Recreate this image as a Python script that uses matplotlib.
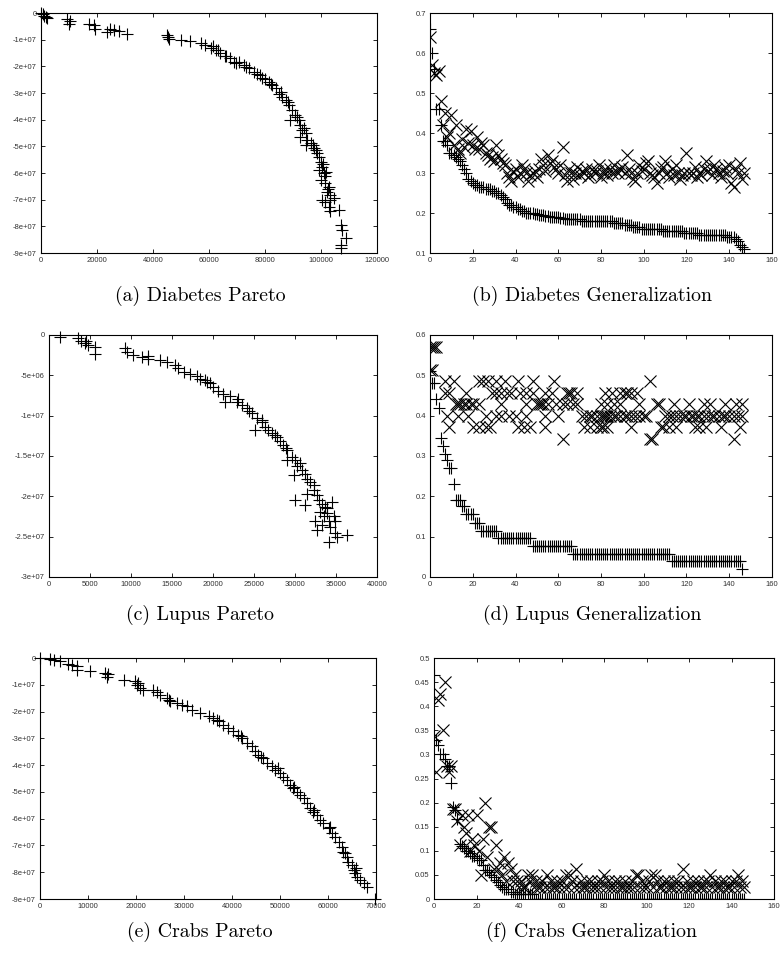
import numpy as np
import matplotlib
matplotlib.use('Agg')
import matplotlib.pyplot as plt

# ---- (a) Diabetes Pareto front (x objective, y objective)
diab_par_x = [0, 700, 1200, 1800, 2000, 9300, 10500, 9900, 17000, 18800, 19400, 23600, 24800,
              26000, 27700, 30700, 45000, 45600, 45300, 49800, 53300, 57000, 58700, 60500, 62300,
              64000, 65500, 67600, 68800, 70500, 72400, 74200, 76000, 78300, 80100, 81300, 82500,
              83700, 84900, 86000, 87300, 88500, 89000, 89600, 90800, 92000, 92600, 93200, 92600,
              94400, 95000, 94400, 96200, 97400, 98600, 99200, 99800, 100400, 99200, 101000,
              101500, 99800, 101500, 102700, 102100, 103300, 100400, 101500, 103300, 104500,
              102700, 103300, 106300, 106900, 107500, 108700, 106900, 107100, 61500, 63000,
              66000, 69500, 73000, 77000, 79000, 82000, 85500, 88000, 91500, 93800, 97000,
              98000, 100800, 101800, 102300]
diab_par_y = [-0.0e7, -0.05e7, -0.1e7, -0.15e7, -0.2e7, -0.21e7, -0.3e7, -0.4e7, -0.4e7, -0.46e7,
              -0.59e7, -0.71e7, -0.59e7, -0.65e7, -0.67e7, -0.77e7, -0.84e7, -0.96e7, -0.9e7,
              -1.0e7, -1.05e7, -1.12e7, -1.21e7, -1.3e7, -1.4e7, -1.5e7, -1.6e7, -1.7e7, -1.83e7,
              -1.85e7, -1.96e7, -2.08e7, -2.2e7, -2.33e7, -2.46e7, -2.58e7, -2.7e7, -2.83e7,
              -3.02e7, -3.14e7, -3.27e7, -3.45e7, -4.0e7, -3.64e7, -3.83e7, -4.0e7, -4.2e7,
              -4.39e7, -4.64e7, -4.5e7, -4.76e7, -4.95e7, -4.89e7, -5.07e7, -5.26e7, -5.39e7,
              -5.57e7, -5.76e7, -5.89e7, -6.0e7, -6.13e7, -6.26e7, -6.38e7, -6.51e7, -6.7e7,
              -6.82e7, -7.0e7, -7.07e7, -7.0e7, -6.95e7, -7.26e7, -7.44e7, -7.38e7, -7.94e7,
              -8.13e7, -8.44e7, -8.69e7, -8.82e7, -1.25e7, -1.38e7, -1.6e7, -1.88e7, -2.02e7,
              -2.28e7, -2.42e7, -2.65e7, -2.95e7, -3.35e7, -3.9e7, -4.3e7, -4.95e7, -5.15e7,
              -5.65e7, -5.95e7, -6.6e7]

# ---- (b) Diabetes generalization: training (+) and test (x) error per front member
diab_train = [0.66, 0.60, 0.56, 0.46, 0.46, 0.42, 0.38, 0.38, 0.37, 0.35,
              0.35, 0.345, 0.34, 0.335, 0.33, 0.32, 0.31, 0.30, 0.285, 0.28,
              0.275, 0.27, 0.27, 0.265, 0.265, 0.265, 0.26, 0.26, 0.26, 0.255,
              0.255, 0.25, 0.25, 0.245, 0.24, 0.235, 0.225, 0.22, 0.22, 0.215,
              0.215, 0.21, 0.21, 0.205, 0.205, 0.20, 0.20, 0.20, 0.20, 0.198,
              0.198, 0.196, 0.195, 0.195, 0.193, 0.192, 0.19, 0.19, 0.19, 0.19,
              0.19, 0.188, 0.188, 0.185, 0.185, 0.185, 0.185, 0.185, 0.185, 0.185,
              0.185, 0.18, 0.18, 0.18, 0.18, 0.18, 0.18, 0.18, 0.18, 0.18,
              0.18, 0.18, 0.18, 0.18, 0.18, 0.18, 0.175, 0.175, 0.175, 0.175,
              0.175, 0.17, 0.17, 0.17, 0.17, 0.165, 0.165, 0.165, 0.165, 0.16,
              0.16, 0.16, 0.16, 0.16, 0.16, 0.16, 0.16, 0.16, 0.16, 0.155,
              0.155, 0.155, 0.155, 0.155, 0.155, 0.155, 0.155, 0.155, 0.155, 0.15,
              0.15, 0.15, 0.15, 0.15, 0.15, 0.15, 0.145, 0.145, 0.145, 0.145,
              0.145, 0.145, 0.145, 0.145, 0.145, 0.145, 0.145, 0.145, 0.145, 0.14,
              0.14, 0.14, 0.14, 0.135, 0.13, 0.12, 0.115, 0.11]
diab_test = [0.64, 0.57, 0.55, 0.545, 0.555, 0.48, 0.42, 0.45, 0.39, 0.40,
             0.445, 0.37, 0.42, 0.36, 0.35, 0.385, 0.365, 0.41, 0.375, 0.405,
             0.37, 0.36, 0.39, 0.36, 0.375, 0.37, 0.35, 0.345, 0.335, 0.34,
             0.33, 0.37, 0.345, 0.335, 0.325, 0.32, 0.30, 0.29, 0.28, 0.305,
             0.31, 0.29, 0.30, 0.32, 0.31, 0.30, 0.28, 0.295, 0.30, 0.305,
             0.29, 0.31, 0.335, 0.32, 0.305, 0.345, 0.325, 0.33, 0.315, 0.31,
             0.30, 0.32, 0.365, 0.295, 0.28, 0.31, 0.30, 0.285, 0.30, 0.315,
             0.295, 0.305, 0.30, 0.31, 0.29, 0.295, 0.31, 0.30, 0.305, 0.32,
             0.29, 0.30, 0.31, 0.295, 0.31, 0.30, 0.32, 0.305, 0.30, 0.31,
             0.315, 0.30, 0.345, 0.31, 0.30, 0.285, 0.28, 0.30, 0.32, 0.305,
             0.31, 0.325, 0.33, 0.30, 0.295, 0.29, 0.275, 0.30, 0.31, 0.315,
             0.33, 0.30, 0.29, 0.31, 0.295, 0.32, 0.30, 0.285, 0.295, 0.30,
             0.35, 0.30, 0.295, 0.30, 0.315, 0.29, 0.30, 0.295, 0.31, 0.33,
             0.305, 0.31, 0.295, 0.32, 0.31, 0.30, 0.29, 0.305, 0.315, 0.30,
             0.32, 0.275, 0.265, 0.31, 0.30, 0.325, 0.285, 0.30]

# ---- (c) Lupus Pareto front
lupus_par_x = [1300, 3540, 3950, 4360, 4770, 5580, 5580, 4560, 9250, 9450, 10260, 11280, 12100,
               12100, 13520, 14340, 15360, 15760, 17190, 18000, 18410, 19000, 19630, 20050, 20650,
               21260, 21470, 22080, 22890, 23500, 24110, 24730, 25330, 25120, 25950, 26350, 26760,
               27170, 27780, 28190, 28590, 29000, 29000, 29620, 30020, 30220, 29820, 30630, 30830,
               31240, 31450, 31860, 32260, 30020, 31240, 31450, 32260, 32670, 32870, 33280, 33690,
               33080, 32460, 33490, 33890, 34100, 33280, 32670, 34300, 34700, 34900, 33900, 34100,
               34900, 35110, 36330, 34500, 16500, 19300, 23000, 24400, 26000, 27500, 28900]
lupus_par_y = [-0.2e6, -0.4e6, -0.7e6, -1.0e6, -1.2e6, -1.45e6, -2.3e6, -0.8e6, -1.65e6, -2.1e6,
               -2.5e6, -2.7e6, -2.6e6, -3.0e6, -3.1e6, -3.4e6, -3.7e6, -4.1e6, -4.8e6, -5.1e6,
               -5.4e6, -5.6e6, -6.0e6, -6.4e6, -6.9e6, -7.3e6, -8.3e6, -7.6e6, -8.3e6, -8.7e6,
               -9.1e6, -9.7e6, -10.3e6, -11.8e6, -10.8e6, -11.4e6, -11.8e6, -12.2e6, -12.6e6,
               -13.2e6, -13.7e6, -14.3e6, -15.5e6, -15.1e6, -15.5e6, -16.3e6, -17.4e6, -15.9e6,
               -16.7e6, -17.2e6, -17.8e6, -18.2e6, -18.6e6, -20.5e6, -21.1e6, -19.7e6, -19.2e6,
               -19.9e6, -20.5e6, -20.9e6, -21.3e6, -21.9e6, -23.0e6, -22.5e6, -22.1e6, -23.0e6,
               -23.6e6, -24.2e6, -23.8e6, -22.5e6, -23.1e6, -21.5e6, -25.7e6, -24.6e6, -25.0e6,
               -24.8e6, -20.7e6, -4.6e6, -5.8e6, -8.0e6, -9.4e6, -10.6e6, -12.4e6, -14.0e6]

# ---- (d) Lupus generalization
lupus_train = [0.51, 0.48, 0.48, 0.44, 0.42, 0.345, 0.325, 0.305, 0.29, 0.27,
               0.27, 0.23, 0.19, 0.19, 0.19, 0.175, 0.175, 0.155, 0.155, 0.155,
               0.155, 0.135, 0.135, 0.135, 0.115, 0.115, 0.115, 0.115, 0.115, 0.115,
               0.115, 0.115, 0.097, 0.097, 0.097, 0.097, 0.097, 0.097, 0.097, 0.097,
               0.097, 0.097, 0.097, 0.097, 0.097, 0.097, 0.097, 0.097, 0.078, 0.078,
               0.078, 0.078, 0.078, 0.078, 0.078, 0.078, 0.078, 0.078, 0.078, 0.078,
               0.078, 0.078, 0.078, 0.078, 0.078, 0.078, 0.078, 0.058, 0.058, 0.058,
               0.058, 0.058, 0.058, 0.058, 0.058, 0.058, 0.058, 0.058, 0.058, 0.058,
               0.058, 0.058, 0.058, 0.058, 0.058, 0.058, 0.058, 0.058, 0.058, 0.058,
               0.058, 0.058, 0.058, 0.058, 0.058, 0.058, 0.058, 0.058, 0.058, 0.058,
               0.058, 0.058, 0.058, 0.058, 0.058, 0.058, 0.058, 0.058, 0.058, 0.058,
               0.058, 0.058, 0.058, 0.04, 0.04, 0.04, 0.04, 0.04, 0.04, 0.04,
               0.04, 0.04, 0.04, 0.04, 0.04, 0.04, 0.04, 0.04, 0.04, 0.04,
               0.04, 0.04, 0.04, 0.04, 0.04, 0.04, 0.04, 0.04, 0.04, 0.04,
               0.04, 0.04, 0.04, 0.04, 0.04, 0.04, 0.02]
lupus_test_x = ([0, 1, 2, 3] + [0, 1] +
                [7, 11, 23, 25, 27, 31, 35, 41, 48, 58, 103] +
                [7, 9, 17, 29, 31, 33, 36, 38, 42, 45, 48, 54, 57, 64, 65, 66, 69, 82, 85, 89,
                 91, 92, 94, 97] +
                [12, 13, 14, 16, 17, 19, 20, 23, 33, 45, 50, 51, 52, 53, 55, 59, 62, 64, 67, 69,
                 80, 83, 86, 89, 98, 106, 107, 114, 121, 128, 131, 138, 143, 146] +
                [8, 13, 18, 26, 31, 33, 37, 40, 45, 54, 60, 71, 73, 75, 76, 78, 80, 81, 82, 83,
                 84, 86, 87, 89, 91, 92, 94, 96, 98, 100, 101, 110, 112, 113, 115, 117, 119,
                 120, 122, 123, 125, 126, 128, 130, 132, 133, 135, 137, 138, 140, 142, 144, 146] +
                [9, 20, 23, 26, 28, 41, 44, 47, 54, 72, 75, 78, 80, 81, 83, 94, 108, 109, 112,
                 115, 124, 126, 129, 136, 145] +
                [62, 103, 104, 142])
lupus_test_y = ([0.571] * 4 + [0.514] * 2 + [0.486] * 11 + [0.457] * 24 + [0.429] * 34 +
                [0.400] * 53 + [0.371] * 25 + [0.343] * 4)

# ---- (e) Crabs Pareto front
crabs_par_x = [0, 2100, 4200, 5900, 6600, 7600, 7600, 10400, 13500, 13900, 17400, 19800, 20100,
               20800, 21500, 23600, 24300, 25000, 26400, 27100, 28500, 29500, 30600, 31600, 33300,
               35100, 36100, 37200, 38200, 39200, 40300, 41300, 42000, 43100, 44100, 44800, 45500,
               46500, 47200, 48300, 49000, 50000, 50700, 51400, 52100, 52800, 53500, 54200, 54900,
               55600, 56300, 56900, 57600, 58300, 59000, 60100, 60800, 61500, 62200, 62800, 63200,
               63900, 64200, 64900, 65300, 65600, 66000, 66700, 67400, 68100, 69800, 3000, 14200,
               20500, 26800, 36800, 41800, 46000, 49500, 53000, 57000, 60500, 63500, 65900]
crabs_par_y = [0, -0.04e7, -0.12e7, -0.21e7, -0.25e7, -0.31e7, -0.44e7, -0.5e7, -0.56e7, -0.69e7,
               -0.81e7, -0.87e7, -1.0e7, -1.12e7, -1.18e7, -1.18e7, -1.25e7, -1.37e7, -1.5e7,
               -1.62e7, -1.68e7, -1.75e7, -1.81e7, -1.93e7, -2.06e7, -2.16e7, -2.24e7, -2.37e7,
               -2.49e7, -2.62e7, -2.74e7, -2.87e7, -2.99e7, -3.18e7, -3.3e7, -3.49e7, -3.62e7,
               -3.74e7, -3.93e7, -4.05e7, -4.18e7, -4.3e7, -4.43e7, -4.55e7, -4.74e7, -4.86e7,
               -4.99e7, -5.11e7, -5.24e7, -5.42e7, -5.61e7, -5.74e7, -5.86e7, -6.05e7, -6.17e7,
               -6.36e7, -6.55e7, -6.67e7, -6.86e7, -7.04e7, -7.23e7, -7.42e7, -7.61e7, -7.73e7,
               -7.92e7, -8.04e7, -8.17e7, -8.29e7, -8.42e7, -8.54e7, -9.0e7, -0.08e7, -0.6e7,
               -0.95e7, -1.55e7, -2.3e7, -2.93e7, -3.68e7, -4.12e7, -4.8e7, -5.67e7, -6.3e7,
               -7.3e7, -7.85e7]

# ---- (f) Crabs generalization
crabs_train = [0.465, 0.33, 0.32, 0.30, 0.30, 0.29, 0.275, 0.275, 0.24, 0.19,
               0.185, 0.165, 0.115, 0.11, 0.105, 0.10, 0.10, 0.095, 0.09, 0.09,
               0.085, 0.08, 0.08, 0.07, 0.06, 0.06, 0.055, 0.05, 0.045, 0.04,
               0.035, 0.03, 0.025, 0.02, 0.02, 0.02, 0.015, 0.015, 0.01, 0.01,
               0.01, 0.01, 0.01, 0.01, 0.01, 0.01, 0.01] + [0.0] * 100
crabs_test = [0.3375, 0.2625, 0.4125, 0.425, 0.35, 0.45, 0.275, 0.2625, 0.275, 0.1875,
              0.1875, 0.1625, 0.1125, 0.175, 0.15, 0.1375, 0.175, 0.1, 0.125, 0.1125,
              0.175, 0.1, 0.05, 0.125, 0.2, 0.0875, 0.15, 0.15, 0.0625, 0.1125,
              0.0625, 0.075, 0.05, 0.0875, 0.0375, 0.075, 0.0625, 0.0375, 0.05, 0.0375,
              0.025, 0.0375, 0.025, 0.025, 0.05, 0.0375, 0.05, 0.025, 0.0375, 0.025,
              0.025, 0.0375, 0.025, 0.05, 0.025, 0.0375, 0.025, 0.025, 0.0375, 0.025,
              0.0375, 0.025, 0.05, 0.025, 0.05, 0.0375, 0.025, 0.0625, 0.025, 0.0375,
              0.025, 0.025, 0.0375, 0.025, 0.0375, 0.025, 0.025, 0.0375, 0.025, 0.0375,
              0.05, 0.025, 0.0375, 0.025, 0.025, 0.0375, 0.025, 0.0375, 0.025, 0.025,
              0.0375, 0.025, 0.025, 0.0375, 0.025, 0.05, 0.05, 0.025, 0.0375, 0.025,
              0.025, 0.0375, 0.05, 0.025, 0.05, 0.0375, 0.025, 0.025, 0.0375, 0.025,
              0.0375, 0.025, 0.025, 0.0375, 0.025, 0.0375, 0.025, 0.0625, 0.025, 0.0375,
              0.025, 0.025, 0.0375, 0.025, 0.0375, 0.025, 0.025, 0.0375, 0.025, 0.0375,
              0.05, 0.025, 0.0375, 0.025, 0.025, 0.0375, 0.025, 0.0375, 0.025, 0.025,
              0.0375, 0.025, 0.0375, 0.05, 0.025, 0.0375, 0.025]

# axis ticks per panel
pareto_ticks = {
    'a': ([0, 20000, 40000, 60000, 80000, 100000, 120000],
          [0, -1e7, -2e7, -3e7, -4e7, -5e7, -6e7, -7e7, -8e7, -9e7],
          ['0', '-1e+07', '-2e+07', '-3e+07', '-4e+07', '-5e+07', '-6e+07', '-7e+07', '-8e+07', '-9e+07']),
    'c': ([0, 5000, 10000, 15000, 20000, 25000, 30000, 35000, 40000],
          [0, -5e6, -1e7, -1.5e7, -2e7, -2.5e7, -3e7],
          ['0', '-5e+06', '-1e+07', '-1.5e+07', '-2e+07', '-2.5e+07', '-3e+07']),
    'e': ([0, 10000, 20000, 30000, 40000, 50000, 60000, 70000],
          [0, -1e7, -2e7, -3e7, -4e7, -5e7, -6e7, -7e7, -8e7, -9e7],
          ['0', '-1e+07', '-2e+07', '-3e+07', '-4e+07', '-5e+07', '-6e+07', '-7e+07', '-8e+07', '-9e+07']),
}
gen_xticks = [0, 20, 40, 60, 80, 100, 120, 140, 160]
diab_yticks = [0.1, 0.2, 0.3, 0.4, 0.5, 0.6, 0.7]
lupus_yticks = [0, 0.1, 0.2, 0.3, 0.4, 0.5, 0.6]
crabs_yticks = [0, 0.05, 0.1, 0.15, 0.2, 0.25, 0.3, 0.35, 0.4, 0.45, 0.5]

captions = ['(a) Diabetes Pareto', '(b) Diabetes Generalization',
            '(c) Lupus Pareto', '(d) Lupus Generalization',
            '(e) Crabs Pareto', '(f) Crabs Generalization']

fig = plt.figure(figsize=(7.82, 9.57), dpi=100)

# axes rectangles in figure fractions (left, bottom, width, height)
rects = [(0.0524, 0.7356, 0.4300, 0.2508), (0.5499, 0.7356, 0.4373, 0.2508),
         (0.0627, 0.3971, 0.4194, 0.2529), (0.5499, 0.3971, 0.4373, 0.2529),
         (0.0512, 0.0606, 0.4297, 0.2518), (0.5550, 0.0606, 0.4348, 0.2518)]
axs = [fig.add_axes(r) for r in rects]

plus = dict(marker='+', linestyle='none', color='black', markersize=9, markeredgewidth=0.8)
cross = dict(marker='x', linestyle='none', color='black', markersize=9, markeredgewidth=0.8)

def style(ax):
    ax.tick_params(direction='in', top=True, right=True, length=3, width=0.6,
                   labelsize=5.5, pad=3, labelcolor='#333333')
    for lab in ax.get_xticklabels() + ax.get_yticklabels():
        lab.set_family('Liberation Sans')
    for s in ax.spines.values():
        s.set_linewidth(0.8)

# Pareto panels (corner points drawn over the frame)
for ax, px, py, key, xmax, ymin in [(axs[0], diab_par_x, diab_par_y, 'a', 120000, -9e7),
                                    (axs[2], lupus_par_x, lupus_par_y, 'c', 40000, -3e7),
                                    (axs[4], crabs_par_x, crabs_par_y, 'e', 70000, -9e7)]:
    ax.plot(px, py, clip_on=False, **plus)
    xt, yt, ylab = pareto_ticks[key]
    ax.set_xlim(0, xmax)
    ax.set_ylim(ymin, 0)
    ax.set_xticks(xt, [str(v) for v in xt])
    ax.set_yticks(yt, ylab)
    style(ax)

# Generalization panels
for ax, tr, tx, ty, yt, ylo, yhi in [
        (axs[1], diab_train, np.arange(len(diab_test)), diab_test, diab_yticks, 0.1, 0.7),
        (axs[3], lupus_train, lupus_test_x, lupus_test_y, lupus_yticks, 0, 0.6),
        (axs[5], crabs_train, np.arange(len(crabs_test)), crabs_test, crabs_yticks, 0, 0.5)]:
    ax.plot(np.arange(len(tr)), tr, **plus)
    ax.plot(tx, ty, **cross)
    ax.set_xlim(0, 160)
    ax.set_ylim(ylo, yhi)
    ax.set_xticks(gen_xticks, [str(v) for v in gen_xticks])
    ax.set_yticks(yt, [f'{v:g}' for v in yt])
    style(ax)

# sub-figure captions
cap_pos = [(200, 296), (592, 296), (200, 615), (592, 615), (200, 932), (592, 932)]
for (cx, cy), txt in zip(cap_pos, captions):
    fig.text(cx / 782, 1 - cy / 957, txt, ha='center', va='center',
             fontsize=14.3, family='cmr10')

fig.savefig('out.png', dpi=100)
